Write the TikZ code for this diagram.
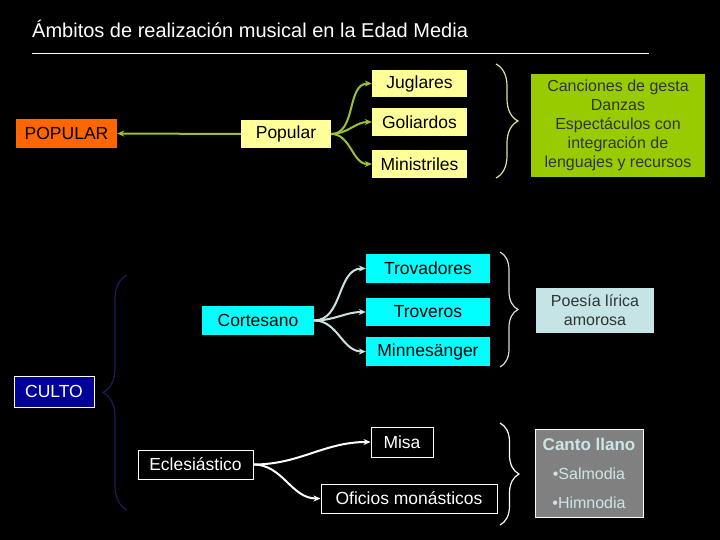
\documentclass[tikz,border=0pt]{standalone}
\usepackage{fontspec}
\setmainfont{Liberation Sans}
\usetikzlibrary{arrows.meta,decorations.pathreplacing}
\definecolor{orangebox}{HTML}{FF6600}
\definecolor{paleyellow}{HTML}{FFFF99}
\definecolor{garrowc}{HTML}{99C233}
\definecolor{greenbox}{HTML}{99CC00}
\definecolor{gbrace}{HTML}{D2E8A0}
\definecolor{cyanbox}{HTML}{00FFFF}
\definecolor{carrowc}{HTML}{CCE2E2}
\definecolor{cbrace}{HTML}{DDDDDD}
\definecolor{poesiabox}{HTML}{C4E4E6}
\definecolor{cultobox}{HTML}{000099}
\definecolor{navybrace}{HTML}{1C1C5A}
\definecolor{graybox}{HTML}{808080}
\definecolor{cantotext}{HTML}{CCE6E6}
\definecolor{darktext}{HTML}{333333}
\begin{document}
\begin{tikzpicture}[x=1pt,y=-1pt,
  lbl/.style={inner sep=0pt, align=center, font=\fontsize{17.5}{21}\selectfont},
  garrow/.style={draw=garrowc, line width=2pt, -{Stealth[length=7pt,width=6pt]}},
  carrow/.style={draw=carrowc, line width=2pt, -{Stealth[length=7pt,width=6pt]}},
  warrow/.style={draw=white, line width=2pt, -{Stealth[length=7pt,width=6pt]}},
  bracedeco/.style={decorate, decoration={brace, amplitude=#1}, line width=1.2pt},
]
\fill[black] (0,0) rectangle (720,540);
\useasboundingbox (0,0) rectangle (720,540);

% title
\node[anchor=base west, inner sep=0pt, text=white, font=\fontsize{20}{24}\selectfont] (title) at (32,38) {Ámbitos de realización musical en la Edad Media};
\coordinate (ruleL) at (32,54);
\coordinate (ruleR) at (649,54);
\draw[white, line width=1pt] (ruleL) -- (ruleR);

% POPULAR section
\node[lbl, fill=orangebox, text=black, minimum width=101pt, minimum height=29pt] (POP) at (66.5,133.5) {POPULAR};
\node[lbl, fill=paleyellow, text=black, minimum width=90pt, minimum height=28pt] (popular) at (286,134) {Popular};
\node[lbl, fill=paleyellow, text=black, minimum width=95pt, minimum height=27pt] (jug) at (419.5,83.5) {Juglares};
\node[lbl, fill=paleyellow, text=black, minimum width=95pt, minimum height=28pt] (gol) at (419.5,122) {Goliardos};
\node[lbl, fill=paleyellow, text=black, minimum width=95pt, minimum height=28pt] (min) at (419.5,164) {Ministriles};
\node[lbl, fill=greenbox, text=darktext, minimum width=174pt, minimum height=103pt, font=\fontsize{16}{19}\selectfont] (canc) at (618,125.5) {Canciones de gesta\\Danzas\\Espectáculos con\\integración de\\lenguajes y recursos};

\draw[garrow] (popular.west) -- (POP.east);
\draw[garrow] (popular.east) to[out=0,in=180] (jug.west);
\draw[garrow] (popular.east) to[out=0,in=180] (gol.west);
\draw[garrow] (popular.east) to[out=0,in=180] (min.west);

\coordinate (b1t) at (496,64);
\coordinate (b1b) at (496,178);
\draw[gbrace, bracedeco=22pt] (b1t) -- (b1b);

% Cortesano section
\node[lbl, fill=cyanbox, text=black, minimum width=112pt, minimum height=29pt] (cort) at (258,320.5) {Cortesano};
\node[lbl, fill=cyanbox, text=black, minimum width=124pt, minimum height=29pt] (trov) at (428,268.5) {Trovadores};
\node[lbl, fill=cyanbox, text=black, minimum width=124pt, minimum height=28pt] (trovr) at (428,312) {Troveros};
\node[lbl, fill=cyanbox, text=black, minimum width=124pt, minimum height=29pt] (minn) at (428,351.5) {Minnesänger};
\node[lbl, fill=poesiabox, text=darktext, minimum width=118pt, minimum height=45pt, font=\fontsize{16}{19}\selectfont] (poes) at (595,310.5) {Poesía lírica\\amorosa};

\draw[carrow] (cort.east) to[out=0,in=180] (trov.west);
\draw[carrow] (cort.east) to[out=0,in=180] (trovr.west);
\draw[carrow] (cort.east) to[out=0,in=180] (minn.west);

\coordinate (b2t) at (500,252);
\coordinate (b2b) at (500,367);
\draw[cbrace, bracedeco=18pt] (b2t) -- (b2b);

% CULTO
\node[lbl, fill=cultobox, draw=white, line width=1pt, text=white, minimum width=80pt, minimum height=31pt] (culto) at (54,391.5) {CULTO};
\coordinate (b4b) at (127,510);
\coordinate (b4t) at (127,275);
\draw[navybrace, bracedeco=24pt] (b4b) -- (b4t);

% Eclesiastico section
\node[lbl, fill=black, draw=white, line width=1pt, text=white, minimum width=115pt, minimum height=29pt] (ecl) at (195.5,464.5) {Eclesiástico};
\node[lbl, fill=black, draw=white, line width=1pt, text=white, minimum width=62pt, minimum height=30pt] (misa) at (402,442) {Misa};
\node[lbl, fill=black, draw=white, line width=1pt, text=white, minimum width=176pt, minimum height=29pt] (ofic) at (409,498.5) {Oficios monásticos};
\node[inner sep=0pt, align=center, fill=graybox, draw=white, line width=1pt, text=cantotext, minimum width=108pt, minimum height=88pt, font=\fontsize{16}{29}\selectfont] (canto) at (589,473) {{\bfseries\fontsize{17}{29}\selectfont Canto llano}\\•Salmodia\\•Himnodia};

\draw[warrow] (ecl.east) to[out=0,in=180] (misa.west);
\draw[warrow] (ecl.east) to[out=0,in=180] (ofic.west);

\coordinate (b3t) at (500,423);
\coordinate (b3b) at (500,525);
\draw[white, bracedeco=19pt] (b3t) -- (b3b);
\end{tikzpicture}
\end{document}
